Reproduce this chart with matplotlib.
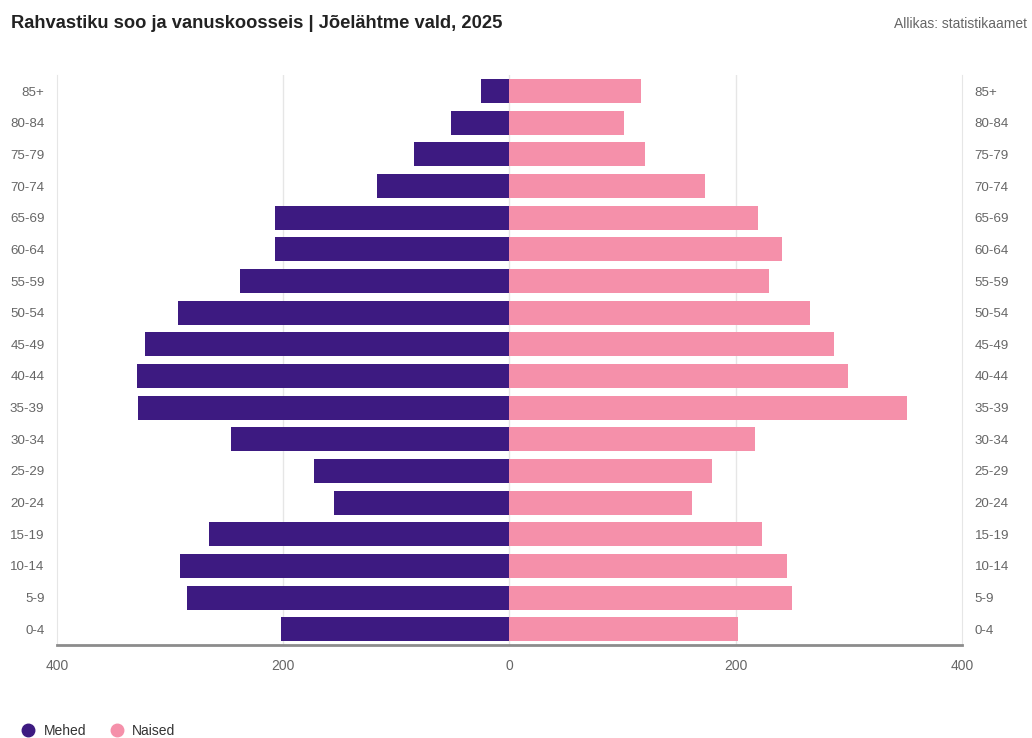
import numpy as np
import matplotlib
matplotlib.use("Agg")
import matplotlib.pyplot as plt
from matplotlib.lines import Line2D

plt.rcParams['font.family'] = ['Liberation Sans', 'DejaVu Sans']

# Andmed
age_groups = ["0-4", "5-9", "10-14", "15-19", "20-24", "25-29", "30-34", "35-39",
              "40-44", "45-49", "50-54", "55-59", "60-64", "65-69", "70-74",
              "75-79", "80-84", "85+"]
men = [202, 285, 291, 266, 155, 173, 246, 328, 329, 322, 293, 238, 207, 207, 117, 84, 52, 25]
women = [202, 250, 245, 223, 161, 179, 217, 351, 299, 287, 266, 229, 241, 220, 173, 120, 101, 116]
x_ticks = [-400, -200, 0, 200, 400]
x_labels = ["400", "200", "0", "200", "400"]

c_men = "#3d1a81"
c_women = "#f590aa"

fig = plt.figure(figsize=(10.32, 7.38), dpi=100)
ax = fig.add_axes([0.0552, 0.126, 0.877, 0.772])

y = np.arange(len(age_groups))
ax.barh(y, -np.array(men), height=0.76, color=c_men, zorder=3)
ax.barh(y, women, height=0.76, color=c_women, zorder=3)

ax.set_xlim(-400, 400)
ax.set_ylim(-0.5, len(age_groups) - 0.5)

for xv in [-200, 0, 200]:
    ax.axvline(xv, color="#e6e6e6", lw=1, zorder=1)

ax.spines["top"].set_visible(False)
ax.spines["left"].set_color("#e6e6e6")
ax.spines["right"].set_color("#e6e6e6")
ax.spines["bottom"].set_color("#8c8c8c")
ax.spines["bottom"].set_linewidth(2)

ax.set_xticks(x_ticks)
ax.set_xticklabels(x_labels)
ax.tick_params(axis="x", length=0, pad=10, labelsize=10, labelcolor="#666666")

ax.set_yticks(y)
ax.set_yticklabels(age_groups)
ax.tick_params(axis="y", length=0, pad=9, labelsize=9.6, labelcolor="#666666",
               left=False, right=False, labelleft=True, labelright=True)

fig.text(0.0105, 0.968, "Rahvastiku soo ja vanuskoosseis | Jõelähtme vald, 2025",
         fontsize=13.2, fontweight="bold", color="#222222", va="center")
fig.text(0.995, 0.968, "Allikas: statistikaamet", fontsize=10, color="#666666",
         ha="right", va="center")

handles = [Line2D([0], [0], marker="o", ls="", color=c_men, markersize=9),
           Line2D([0], [0], marker="o", ls="", color=c_women, markersize=9)]
fig.legend(handles, ["Mehed", "Naised"], loc="center left", bbox_to_anchor=(0.002, 0.01),
           ncol=2, frameon=False, fontsize=10, handletextpad=0.1, columnspacing=1.2,
           labelcolor="#333333")

fig.savefig("out.png", dpi=100)
